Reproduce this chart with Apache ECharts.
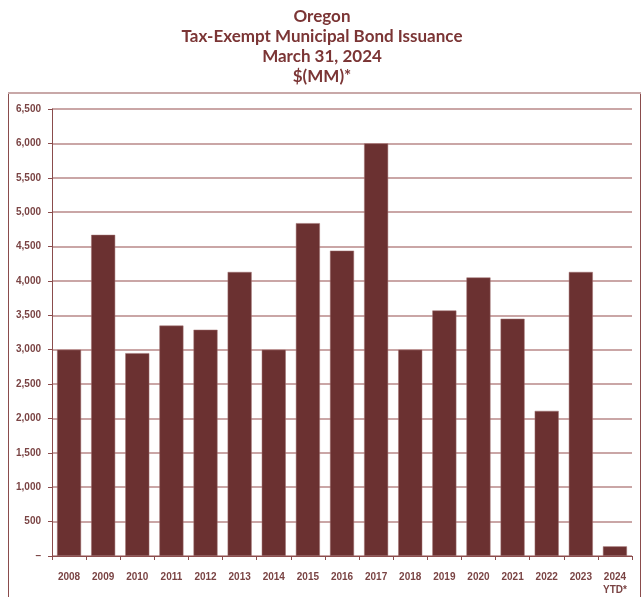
<!DOCTYPE html>
<html>
<head>
<meta charset="utf-8">
<script src="https://cdn.jsdelivr.net/npm/echarts@6/dist/echarts.min.js"></script>
<style>
  html, body { margin: 0; padding: 0; background: #fff; }
  #main { width: 644px; height: 597px; }
</style>
</head>
<body>
<div id="main"></div>
<script>
// data
var years = ["2008", "2009", "2010", "2011", "2012", "2013", "2014", "2015", "2016",
  "2017", "2018", "2019", "2020", "2021", "2022", "2023", "2024\nYTD*"];
var issuance = [3000, 4670, 2950, 3350, 3290, 4130, 3000, 4840, 4440,
  6000, 3000, 3570, 4050, 3450, 2110, 4130, 140];
var titleLines = ["Oregon", "Tax-Exempt Municipal Bond Issuance", "March 31, 2024", "$(MM)*"];

var maroon = "#6b3131";
var textColor = "#7a4444";

var chartDom = document.getElementById("main");
var myChart = echarts.init(chartDom);
var option;

option = {
  animation: false,
  title: {
    text: titleLines.join("\n"),
    left: "center",
    top: 2,
    textStyle: {
      color: "#7b3535",
      fontFamily: "Lato, sans-serif",
      fontWeight: "bold",
      fontSize: 17,
      lineHeight: 20
    }
  },
  graphic: [
    {
      type: "rect",
      shape: { x: 8.5, y: 93.5, width: 632, height: 520 },
      style: { fill: "none", stroke: "#8a4c4c", lineWidth: 1 },
      silent: true
    },
    {
      type: "line",
      shape: { x1: 8, y1: 93, x2: 641, y2: 93 },
      style: { stroke: "#c8a8a8", lineWidth: 2 },
      silent: true
    }
  ],
  grid: {
    left: 52,
    right: 12,
    top: 109,
    bottom: 41
  },
  xAxis: {
    type: "category",
    data: years,
    axisLine: { lineStyle: { color: "#8a4c4c", width: 1 } },
    axisTick: { show: true, length: 4, lineStyle: { color: "#8a4c4c" } },
    axisLabel: {
      color: textColor,
      fontFamily: "Liberation Sans, Arial, sans-serif",
      fontWeight: "bold",
      fontSize: 10,
      margin: 15,
      lineHeight: 13,
      interval: 0
    }
  },
  yAxis: {
    type: "value",
    min: 0,
    max: 6500,
    interval: 500,
    axisLine: { show: true, lineStyle: { color: "#8a4c4c", width: 1 } },
    axisTick: { show: true, length: 4, lineStyle: { color: "#8a4c4c" } },
    splitLine: { lineStyle: { color: "#b88888", width: 1.5 } },
    axisLabel: {
      color: textColor,
      fontFamily: "Liberation Sans, Arial, sans-serif",
      fontWeight: "bold",
      fontSize: 10,
      margin: 11,
      formatter: function (v) {
        return v === 0 ? "\u2013" : v.toLocaleString("en-US");
      }
    }
  },
  series: [
    {
      name: "Issuance",
      type: "bar",
      data: issuance,
      barWidth: 24,
      itemStyle: { color: maroon, borderColor: "#a07070", borderWidth: 0.5 }
    }
  ]
};
option && myChart.setOption(option);
</script>
</body>
</html>
